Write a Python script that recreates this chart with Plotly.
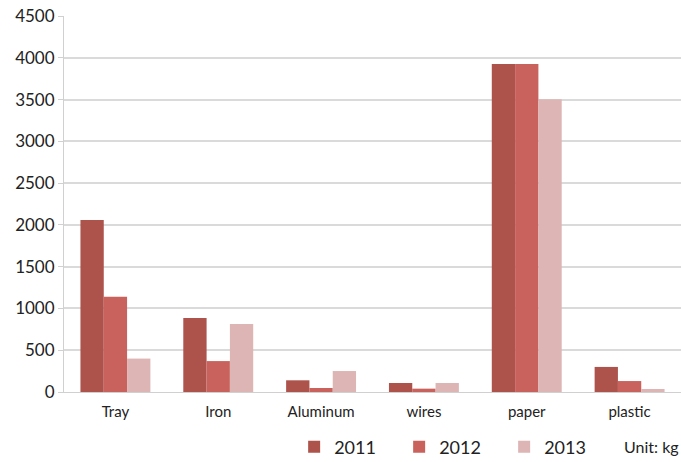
import plotly.graph_objects as go

categories = ["Tray", "Iron", "Aluminum", "wires", "paper", "plastic"]
years = ["2011", "2012", "2013"]
values_2011 = [2060, 885, 140, 108, 3925, 300]
values_2012 = [1140, 370, 48, 40, 3925, 131]
values_2013 = [400, 815, 251, 108, 3505, 36]
colors = ["#AE524C", "#C9625C", "#DDB5B4"]

fig = go.Figure()
for name, vals, col in zip(years, [values_2011, values_2012, values_2013], colors):
    fig.add_trace(go.Bar(x=categories, y=vals, name=name, marker=dict(color=col, line=dict(width=0))))

font = "Lato, 'Open Sans', sans-serif"
fig.update_layout(
    width=681, height=462,
    margin=dict(l=64, r=0, t=16, b=70, autoexpand=False),
    paper_bgcolor="white", plot_bgcolor="white",
    barmode="group", bargap=0.32, bargroupgap=0,
    font=dict(family=font, size=15, color="#222222"),
    showlegend=True,
    legend=dict(orientation="h", x=0.373, y=-0.097, xanchor="left", yanchor="top",
                font=dict(size=18, color="#222222"), itemwidth=30, tracegroupgap=0,
                entrywidthmode="pixels", entrywidth=60),
    xaxis=dict(showgrid=False, showline=True, linecolor="#d0d0d0", ticks="",
               tickfont=dict(size=15), ticklabelstandoff=6),
    yaxis=dict(range=[0, 4500], dtick=500, showgrid=True, gridcolor="#dadada", gridwidth=1.5,
               showline=True, linecolor="#d0d0d0", zeroline=False, ticks="outside",
               ticklen=5, tickcolor="#d0d0d0", tickfont=dict(size=17)),
    annotations=[dict(text="Unit: kg", xref="paper", yref="paper", x=1.0, y=-0.144,
                      xanchor="right", yanchor="middle", showarrow=False,
                      font=dict(size=16, color="#222222"))],
)
fig.write_html("out.html")
